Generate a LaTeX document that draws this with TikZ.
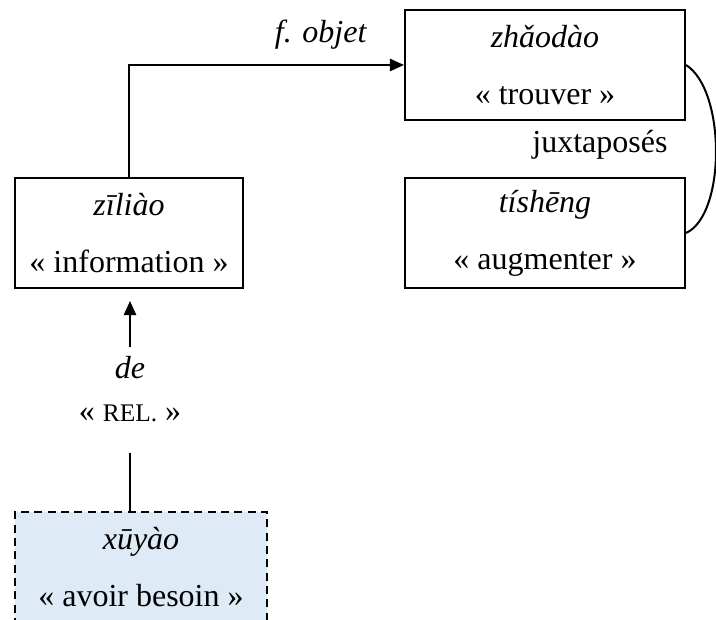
\documentclass[tikz,border=0pt]{standalone}
\usepackage{fontspec}
\setmainfont{Liberation Serif}
\usepackage{xcolor}
\usepackage{tikz}
\usetikzlibrary{arrows.meta, positioning, calc}
\definecolor{paleblue}{RGB}{222,234,246}

\begin{document}
\begin{tikzpicture}[
    x=0.375pt, y=-0.375pt,
    box/.style={rectangle, draw, line width=0.75pt, inner sep=0pt, minimum height=41.25pt, font=\fontsize{12}{21.4}\selectfont, align=center},
    relbox/.style={box, densely dashed, fill=paleblue},
    arr/.style={-{Triangle[length=5.3pt, width=4.6pt]}, line width=0.75pt},
    lnk/.style={line width=0.75pt},
    lbl/.style={font=\fontsize{12}{14}\selectfont, inner sep=0pt},
]
\clip (0,0) rectangle (716,620);
\node[box, minimum width=105pt]  (zhaodao) at (545,65)  {\textit{zhǎodào}\\« trouver »};
\node[box, minimum width=105pt]  (tisheng) at (545,233) {\textit{tíshēng}\\« augmenter »};
\node[box, minimum width=85.5pt] (ziliao)  at (129,233) {\textit{zīliào}\\« information »};
\node[relbox, minimum width=94.5pt] (xuyao) at (141,567) {\textit{xūyào}\\« avoir besoin »};

\node[lbl] (objet) at (321,35)  {\textit{f. objet}};
\node[lbl] (juxta) at (600,145) {juxtaposés};
\node[lbl] (de)    at (130,368) {\textit{de}};
\node[lbl] (rel)   at (130,413) {« {\fontsize{9.5}{11}\selectfont REL.} »};

\draw[arr] (ziliao.north) |- (zhaodao.west);
\draw[lnk] (zhaodao.east) .. controls (726,90) and (726,215) .. (tisheng.east);
\draw[arr, shorten <=3.4pt, shorten >=4.5pt] (de) -- (de |- ziliao.south);
\draw[lnk, shorten <=11.6pt] (rel) -- (rel |- xuyao.north);
\end{tikzpicture}
\end{document}
